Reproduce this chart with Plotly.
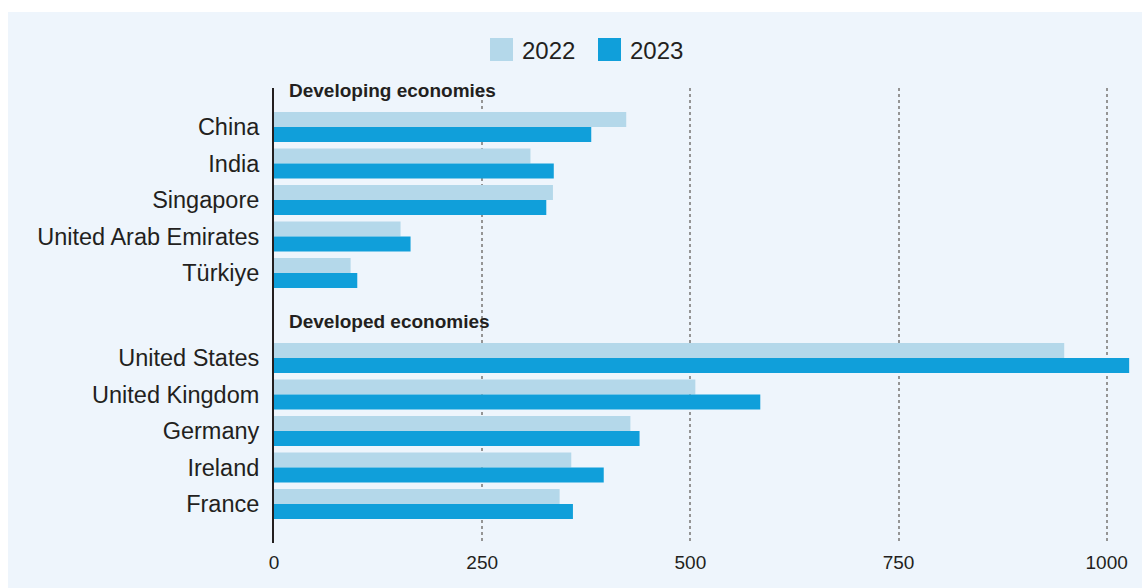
import plotly.graph_objects as go

# Economies in each group, top to bottom
DEVELOPING = ["China", "India", "Singapore", "United Arab Emirates", "Türkiye"]
DEVELOPED = ["United States", "United Kingdom", "Germany", "Ireland", "France"]

# Values per economy
DEVELOPING_2022 = [423, 308, 335, 152, 92]
DEVELOPING_2023 = [381, 336, 327, 164, 100]
DEVELOPED_2022 = [949, 506, 428, 357, 343]
DEVELOPED_2023 = [1027, 584, 439, 396, 359]

YEARS = ["2022", "2023"]
GROUP_TITLES = ["Developing economies", "Developed economies"]
X_TICKS = [0, 250, 500, 750, 1000]

# Styling
BG = "#EEF5FC"
LIGHT = "#B4D8EA"
DARK = "#109FDA"
INK = "#231F20"
GRID = "#959595"
FONT = "Liberation Sans, Arial, Helvetica, sans-serif"

W, H = 1142, 588
L, R, T, B = 274, 7, 88, 45
PW, PH = W - L - R, H - T - B


def fx(px):
    return (px - L) / PW


def fy(py):
    return (H - B - py) / PH


# Row slots: developed group starts after a wider gap
GROUP_GAP = 2.33
dev_pos = [float(i) for i in range(len(DEVELOPING))]
dvd_pos = [dev_pos[-1] + GROUP_GAP + i for i in range(len(DEVELOPED))]

positions = dev_pos + dvd_pos
labels = DEVELOPING + DEVELOPED
series = [DEVELOPING_2022 + DEVELOPED_2022, DEVELOPING_2023 + DEVELOPED_2023]
colors = [LIGHT, DARK]

fig = go.Figure()
for name, vals, col in zip(YEARS, series, colors):
    fig.add_trace(go.Bar(
        x=vals, y=positions, orientation="h", name=name,
        marker=dict(color=col, line=dict(width=0)), showlegend=False,
    ))

shapes = [dict(
    type="rect", xref="paper", yref="paper",
    x0=fx(8), x1=fx(W + 5), y0=fy(H + 5), y1=fy(12),
    fillcolor=BG, line=dict(width=0), layer="below",
)]

annotations = []
for title, first in zip(GROUP_TITLES, [dev_pos[0], dvd_pos[0]]):
    annotations.append(dict(
        xref="x", yref="y", x=0, y=first - 1, xshift=13,
        xanchor="left", yanchor="middle", showarrow=False,
        text=f"<b>{title}</b>", font=dict(family=FONT, size=19, color=INK),
    ))

# Legend drawn as swatches and labels centred above the plot
for i, (name, col) in enumerate(zip(YEARS, colors)):
    sx = 490 + 108 * i
    shapes.append(dict(
        type="rect", xref="paper", yref="paper",
        x0=fx(sx), x1=fx(sx + 23), y0=fy(61), y1=fy(38),
        fillcolor=col, line=dict(width=0),
    ))
    annotations.append(dict(
        xref="paper", yref="paper", x=fx(sx + 30), y=fy(50),
        xanchor="left", yanchor="middle", showarrow=False,
        text=name, font=dict(family=FONT, size=24, color=INK),
    ))

fig.update_layout(
    width=W, height=H, autosize=False,
    margin=dict(l=L, r=R, t=T, b=B, pad=0),
    paper_bgcolor="white", plot_bgcolor="rgba(0,0,0,0)",
    barmode="group", bargap=0.18, bargroupgap=0,
    font=dict(family=FONT, color=INK),
    shapes=shapes, annotations=annotations,
    xaxis=dict(
        range=[0, 1034], tickvals=X_TICKS, ticktext=[str(v) for v in X_TICKS],
        showgrid=True, gridcolor=GRID, griddash="dot", gridwidth=1.5,
        zeroline=False, showline=False, ticks="", automargin=False,
        tickfont=dict(family=FONT, size=19, color=INK), ticklabelstandoff=6,
        fixedrange=True,
    ),
    yaxis=dict(
        range=[11.4, -1.07], tickvals=positions, ticktext=labels,
        showgrid=False, zeroline=False, showline=True, automargin=False,
        linecolor=INK, linewidth=2, ticks="",
        tickfont=dict(family=FONT, size=23.5, color=INK), ticklabelstandoff=8,
        fixedrange=True,
    ),
)

fig.write_html("out.html")
